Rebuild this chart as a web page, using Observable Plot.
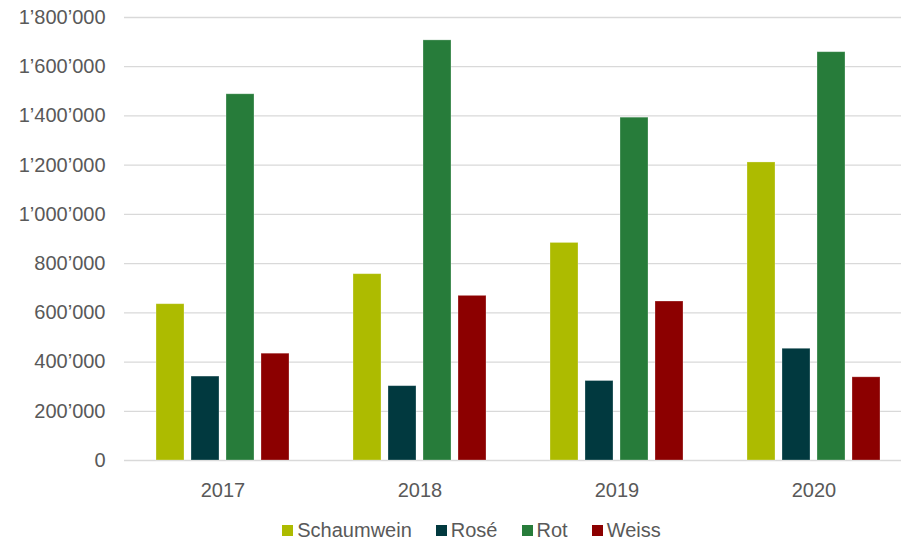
<!DOCTYPE html>
<html>
<head>
<meta charset="utf-8">
<script src="https://cdn.jsdelivr.net/npm/d3@7"></script>
<script src="https://cdn.jsdelivr.net/npm/@observablehq/plot@0.6"></script>
<style>
  html, body { margin: 0; padding: 0; background: #fff; overflow: hidden; width: 901px; height: 541px; }
  #chart { width: 901px; height: 505px; overflow: hidden; }
  #chart svg { max-width: none !important; display: block; }
  #legend { display: flex; justify-content: center; align-items: center; width: 901px; padding-left: 42px; box-sizing: border-box;
            font-family: "Liberation Sans", Arial, sans-serif; font-size: 20px; color: #595959; margin-top: 14px; }
  .item { display: flex; align-items: center; margin: 0 12px; }
  .sw { width: 11px; height: 11px; margin-right: 4px; }
</style>
</head>
<body>
<div id="chart"></div>
<div id="legend"></div>
<script>
const years = ["2017", "2018", "2019", "2020"];
const series = ["Schaumwein", "Rosé", "Rot", "Weiss"];
const colors = ["#adbb00", "#01393f", "#277c3a", "#8c0000"];
const schaumwein = [635000, 757000, 884000, 1211000];
const rose = [341000, 302000, 323000, 454000];
const rot = [1488000, 1707000, 1393000, 1659000];
const weiss = [434000, 669000, 646000, 338000];
const yTicks = [0, 200000, 400000, 600000, 800000, 1000000, 1200000, 1400000, 1600000, 1800000];

const valuesBySeries = [schaumwein, rose, rot, weiss];
const data = [];
years.forEach((yr, i) => {
  series.forEach((s, j) => data.push({year: yr, series: s, value: valuesBySeries[j][i]}));
});

const fmt = d3.formatLocale({decimal: ".", thousands: "\u2019", grouping: [3], currency: ["", ""]}).format(",");

const plot = Plot.plot({
  width: 913,
  height: 505,
  marginLeft: 123,
  marginRight: 0,
  marginTop: 17,
  marginBottom: 45,
  style: {fontFamily: "'Liberation Sans', Arial, sans-serif", fontSize: "20px", color: "#595959", background: "#fff"},
  fx: {domain: years, padding: 0, label: null},
  x: {domain: series, axis: null, paddingInner: 0.21, paddingOuter: 0.865},
  y: {domain: [0, 1800000], label: null},
  color: {domain: series, range: colors},
  marks: [
    Plot.gridY(yTicks, {stroke: "#d9d9d9", strokeOpacity: 1, strokeWidth: 1.3}),
    Plot.barY(data, {fx: "year", x: "series", y: "value", fill: "series", stroke: "#ffffff", strokeOpacity: 0.35, strokeWidth: 0.8}),
    Plot.axisY(yTicks, {tickSize: 0, tickPadding: 19, tickFormat: fmt, fill: "#595959", fontSize: 20, label: null}),
    Plot.axisFx({anchor: "bottom", tickSize: 0, tickPadding: 22, fill: "#595959", fontSize: 20, label: null})
  ]
});
document.getElementById("chart").appendChild(plot);

const legend = document.getElementById("legend");
series.forEach((s, i) => {
  const it = document.createElement("div");
  it.className = "item";
  const sw = document.createElement("div");
  sw.className = "sw";
  sw.style.background = colors[i];
  const t = document.createElement("span");
  t.textContent = s;
  it.appendChild(sw);
  it.appendChild(t);
  legend.appendChild(it);
});
</script>
</body>
</html>
